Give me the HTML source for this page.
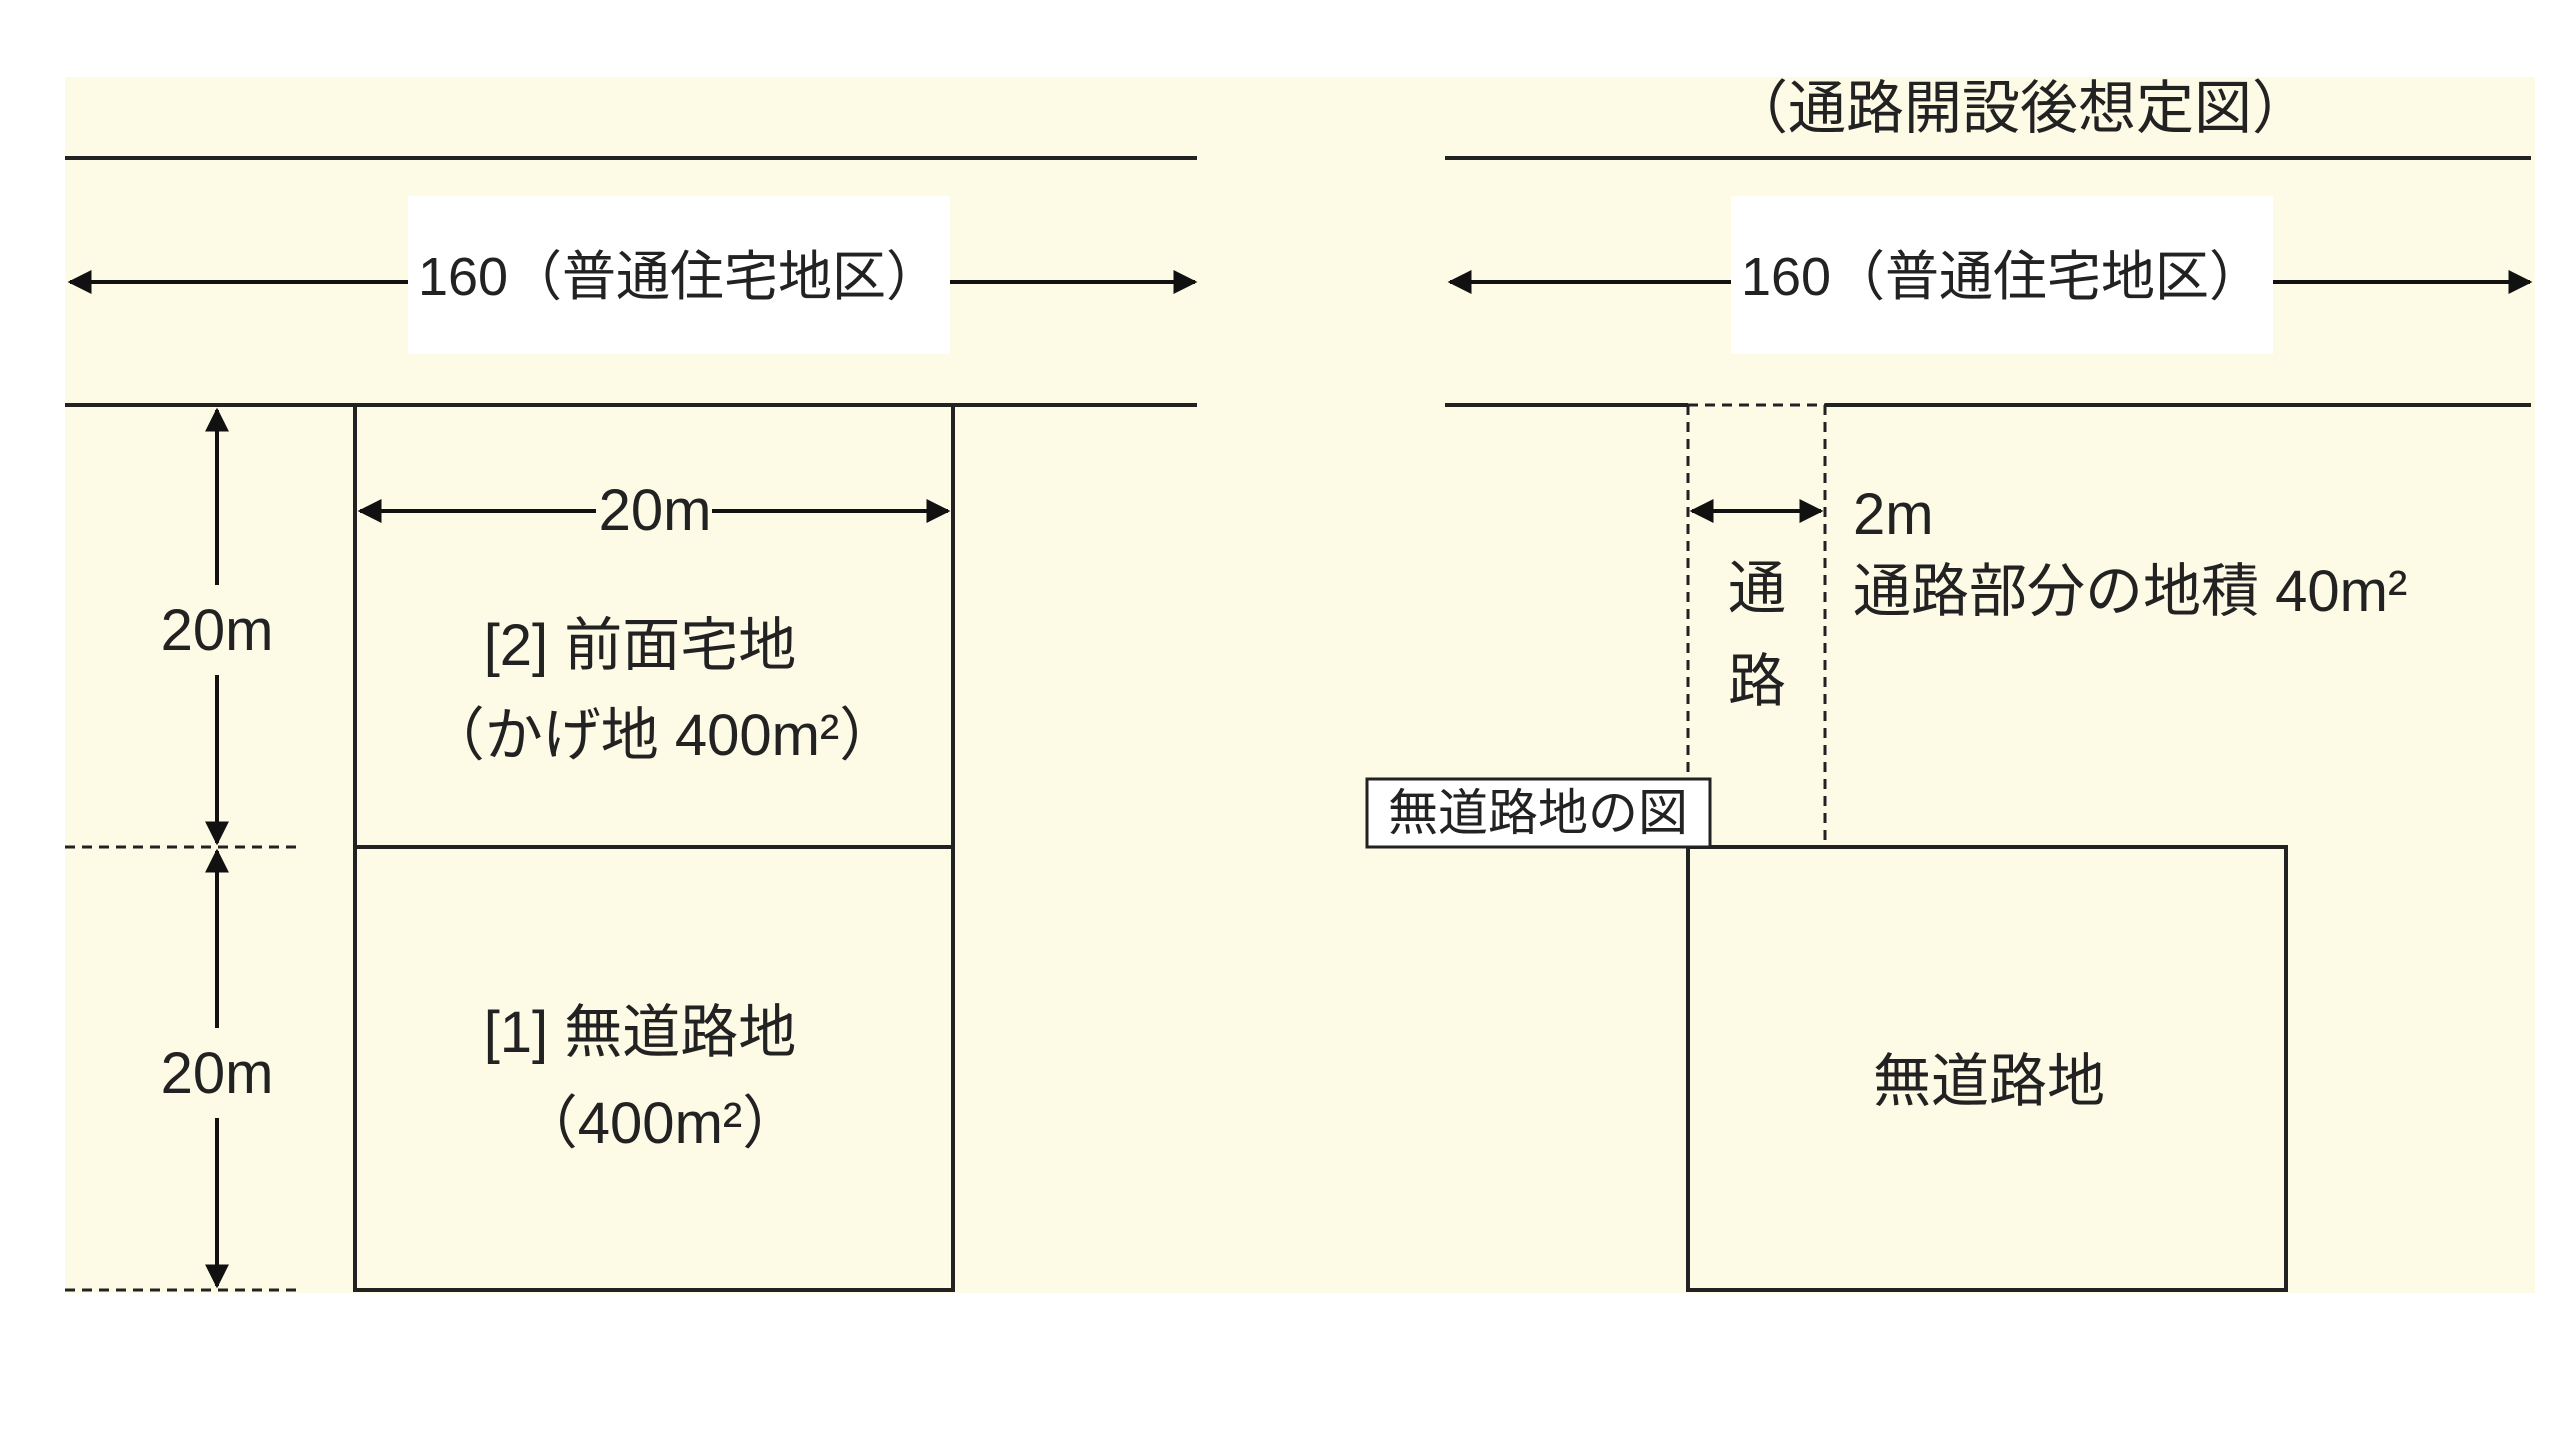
<!DOCTYPE html>
<html><head><meta charset="utf-8"><style>
html,body{margin:0;padding:0;background:#fff;}
svg{display:block;}
text{font-family:"Liberation Sans","Noto Sans CJK JP",sans-serif;fill:#222;}
</style></head><body>
<svg width="2560" height="1455" viewBox="0 0 2560 1455" xmlns="http://www.w3.org/2000/svg">
<defs>
<marker id="a" viewBox="0 0 10 10" refX="9" refY="5" markerWidth="6" markerHeight="6" orient="auto-start-reverse"><path d="M0,0 L10,5 L0,10 z" fill="#111"/></marker>
</defs>
<rect x="65" y="77" width="2470" height="1216" fill="#fdfae6"/>
<g stroke="#222" stroke-width="4" fill="none">
<line x1="65" y1="158" x2="1197" y2="158"/>
<line x1="65" y1="405" x2="1197" y2="405"/>
<line x1="1445" y1="158" x2="2531" y2="158"/>
<line x1="1445" y1="405" x2="1688" y2="405"/>
<line x1="1825" y1="405" x2="2531" y2="405"/>
<rect x="355" y="405" width="598" height="885"/>
<line x1="355" y1="847" x2="953" y2="847"/>
<rect x="1688" y="847" width="598" height="443"/>
</g>
<g stroke="#222" stroke-width="3" stroke-dasharray="10,7" fill="none">
<line x1="65" y1="847" x2="299" y2="847"/>
<line x1="65" y1="1290" x2="299" y2="1290"/>
<line x1="1688" y1="405" x2="1688" y2="847"/>
<line x1="1825" y1="405" x2="1825" y2="847"/>
<line x1="1688" y1="405" x2="1825" y2="405"/>
</g>
<g stroke="#111" stroke-width="4" marker-start="url(#a)" marker-end="url(#a)">
<line x1="70" y1="282" x2="1195" y2="282"/>
<line x1="1450" y1="282" x2="2530" y2="282"/>
<line x1="360" y1="511" x2="948" y2="511"/>
<line x1="1692" y1="511" x2="1821" y2="511"/>
<line x1="217" y1="410" x2="217" y2="843"/>
<line x1="217" y1="851" x2="217" y2="1286"/>
</g>
<rect x="408" y="196" width="542" height="158" fill="#fff"/>
<rect x="1731" y="196" width="542" height="158" fill="#fff"/>
<rect x="180" y="585" width="75" height="90" fill="#fdfae6"/>
<rect x="180" y="1028" width="75" height="90" fill="#fdfae6"/>
<rect x="596" y="480" width="116" height="60" fill="#fdfae6"/>
<g font-size="54" text-anchor="middle">
<text x="679" y="295">160（普通住宅地区）</text>
<text x="2002" y="295">160（普通住宅地区）</text>
</g>
<g font-size="58" text-anchor="middle">
<text x="2020" y="128">（通路開設後想定図）</text>
<text x="217" y="650">20m</text>
<text x="217" y="1093">20m</text>
<text x="655" y="530">20m</text>
<text x="640" y="665">[2] 前面宅地</text>
<text x="662" y="755">（かげ地 400m²）</text>
<text x="640" y="1052">[1] 無道路地</text>
<text x="660" y="1143">（400m²）</text>
<text x="1757" y="608">通</text>
<text x="1757" y="701">路</text>
<text x="1989" y="1101">無道路地</text>
</g>
<g font-size="58">
<text x="1853" y="534">2m</text>
<text x="1853" y="611">通路部分の地積 40m²</text>
</g>
<rect x="1367" y="779" width="343" height="68" fill="#fff" stroke="#222" stroke-width="3"/>
<text x="1538" y="830" font-size="50" text-anchor="middle">無道路地の図</text>
</svg>
</body></html>
